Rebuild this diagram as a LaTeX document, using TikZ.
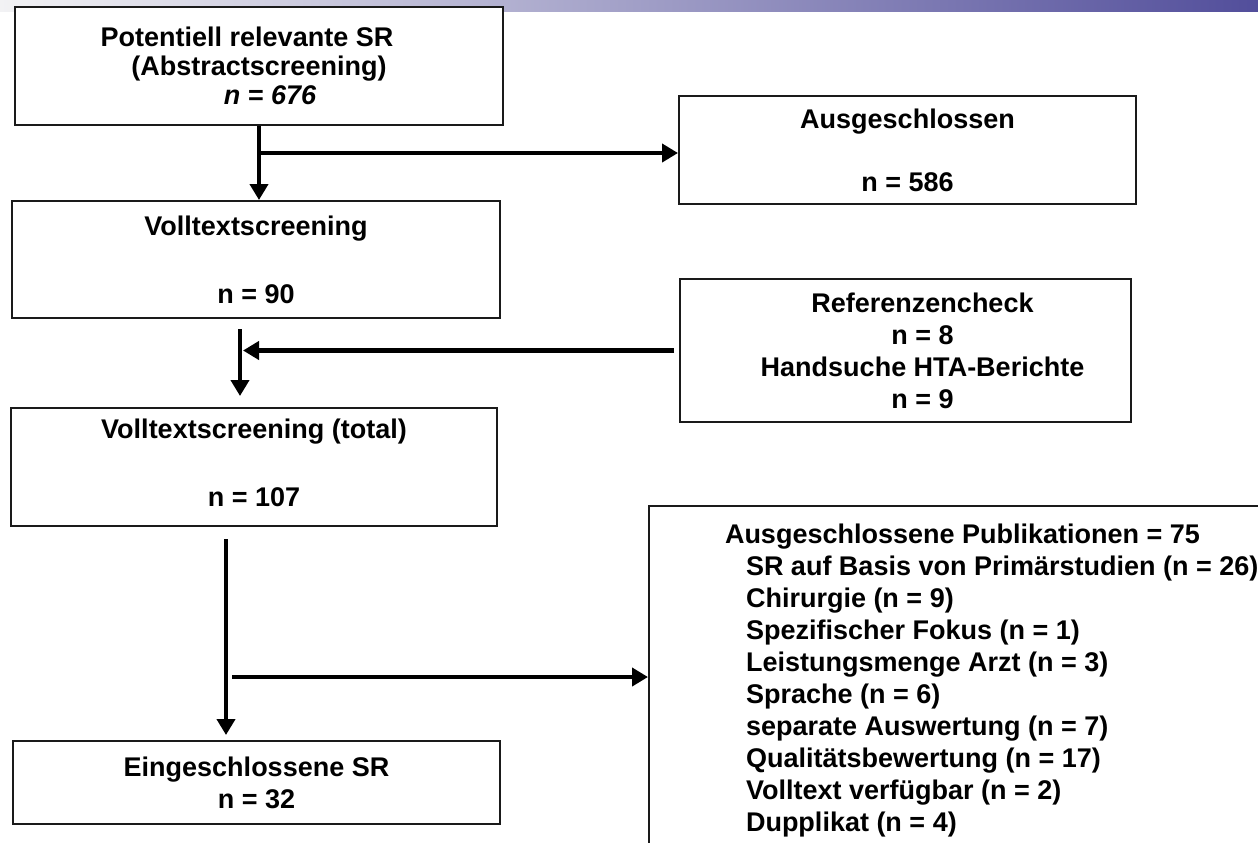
\documentclass[tikz,border=0pt]{standalone}
\usepackage{fontspec}
\setmainfont{Liberation Sans}
\usepackage{tikz}
\usetikzlibrary{arrows.meta,positioning,calc}
\definecolor{srbar}{HTML}{524E9B}
\definecolor{srbarlight}{HTML}{F2F2F4}
\definecolor{srink}{HTML}{1A1A1A}

\begin{document}
\begin{tikzpicture}[x=0.5pt,y=-0.5pt,
    srbox/.style={draw=srink,line width=1pt,fill=white,align=center,inner sep=0pt,font=\fontsize{13.5}{16}\selectfont\bfseries},
    srflow/.style={draw=black,line width=2.35pt,-{Triangle[length=8pt,width=9pt]}}]
  \useasboundingbox (0,0) rectangle (1258,842);
  \shade[left color=srbarlight,right color=srbar] (0,0) rectangle (1258,11);
  \node[srbox,minimum width=244pt,minimum height=59pt] (screen) at (259,66) {Potentiell relevante SR\hspace*{12pt}\\[-1.5pt](Abstractscreening)\hspace*{7pt}\\[-1.5pt]\hspace*{11pt}\textit{n = 676}};
  \node[srbox,minimum width=228.5pt,minimum height=54pt] (excl) at (907.5,150) {Ausgeschlossen\\[15.5pt]n = 586};
  \node[srbox,minimum width=244pt,minimum height=58.5pt] (full) at (256,259.5) {Volltextscreening\\[18pt]n = 90};
  \node[srbox,minimum width=225.5pt,minimum height=71.5pt] (refs) at (905.5,350.5) {\hspace*{17pt}Referenzencheck\\\hspace*{17pt}n = 8\\\hspace*{17pt}Handsuche HTA-Berichte\\\hspace*{17pt}n = 9};
  \node[srbox,minimum width=243pt,minimum height=59pt] (total) at (254,467) {Volltextscreening (total)\\[18pt]n = 107\rule[-4pt]{0pt}{4pt}};
  \node[srbox,minimum width=243.5pt,minimum height=41.5pt] (incl) at (256.5,782.5) {Eingeschlossene SR\\n = 32};
  \node[srbox,anchor=north west,align=left,inner xsep=38pt,inner ysep=9pt] (pubs) at (648,505) {Ausgeschlossene Publikationen = 75\\
    \hspace*{10.5pt}SR auf Basis von Primärstudien (n = 26)\\
    \hspace*{10.5pt}Chirurgie (n = 9)\\
    \hspace*{10.5pt}Spezifischer Fokus (n = 1)\\
    \hspace*{10.5pt}Leistungsmenge Arzt (n = 3)\\
    \hspace*{10.5pt}Sprache (n = 6)\\
    \hspace*{10.5pt}separate Auswertung (n = 7)\\
    \hspace*{10.5pt}Qualitätsbewertung (n = 17)\\
    \hspace*{10.5pt}Volltext verfügbar (n = 2)\\
    \hspace*{10.5pt}Dupplikat (n = 4)};
  \coordinate (split1) at ([yshift=-13.5pt]screen.south);
  \coordinate (m2) at ([xshift=-8pt,yshift=-5pt]full.south);
  \coordinate (m3) at ([xshift=-14pt,yshift=-6pt]total.south);
  \coordinate (split3) at (232,677);
  \draw[srflow] (screen.south) -- (screen.south |- full.north);
  \draw[srflow] (split1) -- (split1 -| excl.west);
  \draw[srflow] (m2) -- ([yshift=5.5pt]total.north -| m2);
  \draw[srflow] ([xshift=-2.5pt]refs.west) -- ([xshift=1.5pt]m2 |- refs.west);
  \draw[srflow] (m3) -- ([yshift=2.5pt]incl.north -| m3);
  \draw[srflow] (split3) -- (split3 -| pubs.west);
\end{tikzpicture}
\end{document}
